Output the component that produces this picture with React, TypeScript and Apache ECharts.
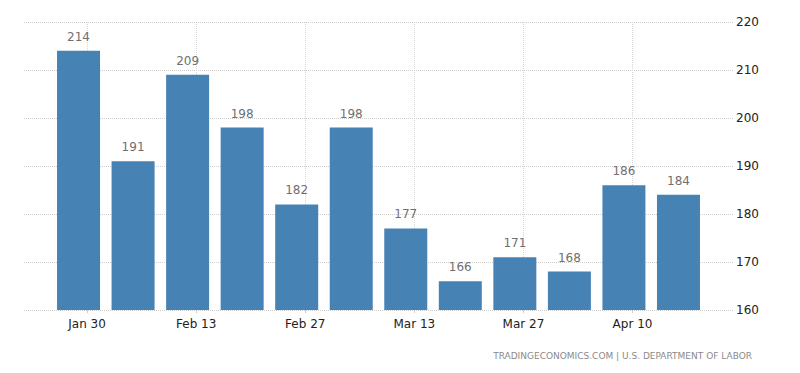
import React, { useEffect, useRef } from "react";
import * as echarts from "echarts";

const categories = ["Jan 30", "Feb 6", "Feb 13", "Feb 20", "Feb 27", "Mar 6", "Mar 13", "Mar 20", "Mar 27", "Apr 3", "Apr 10", "Apr 17"];
const values = [214, 191, 209, 198, 182, 198, 177, 166, 171, 168, 186, 184];
const labelIndices = [0, 2, 4, 6, 8, 10];
const yTicks = [160, 170, 180, 190, 200, 210, 220];
const source = "TRADINGECONOMICS.COM | U.S. DEPARTMENT OF LABOR";

const OFF = 0.157;

export default function App() {
  const ref = useRef<HTMLDivElement>(null);
  useEffect(() => {
    document.body.style.margin = "0";
    const chart = echarts.init(ref.current!, null, { renderer: "svg" });
    const tickVals = labelIndices.map((i) => i + OFF);
    chart.setOption({
      animation: false,
      backgroundColor: "#ffffff",
      grid: { left: 24, right: 67, top: 22, bottom: 63 },
      xAxis: {
        type: "value",
        min: -1,
        max: categories.length,
        axisLine: { show: false },
        axisTick: {
          show: true,
          length: 3,
          customValues: tickVals,
          lineStyle: { color: "#cccccc" },
        },
        axisLabel: {
          customValues: tickVals,
          formatter: (v: number) => categories[Math.round(v - OFF)] ?? "",
          color: "#222222",
          fontSize: 12,
          fontFamily: "DejaVu Sans",
          margin: 8,
        },
        splitLine: {
          show: true,
          lineStyle: { color: "#d6d6d6", type: "dotted", width: 1 },
        },
      },
      yAxis: {
        type: "value",
        position: "right",
        min: yTicks[0],
        max: yTicks[yTicks.length - 1],
        interval: 10,
        axisLine: { show: false },
        axisTick: { show: false },
        axisLabel: {
          color: "#222222",
          fontSize: 12,
          fontFamily: "DejaVu Sans",
          margin: 3,
        },
        splitLine: {
          show: true,
          lineStyle: { color: "#cfcfcf", type: "dotted", width: 1 },
        },
      },
      series: [
        {
          type: "bar",
          data: values.map((v, i) => [i, v]),
          barWidth: 43,
          itemStyle: { color: "#4682b4" },
          label: {
            show: true,
            position: "top",
            distance: 8,
            color: "#707070",
            fontSize: 12,
            fontFamily: "DejaVu Sans",
          },
        },
      ],
      graphic: [
        {
          type: "text",
          right: 48,
          top: 351,
          style: {
            text: source,
            fill: "#8a8a8a",
            fontSize: 9,
            fontFamily: "DejaVu Sans",
          },
        },
      ],
    });
    return () => chart.dispose();
  }, []);
  return <div ref={ref} style={{ width: 800, height: 373 }} />;
}
